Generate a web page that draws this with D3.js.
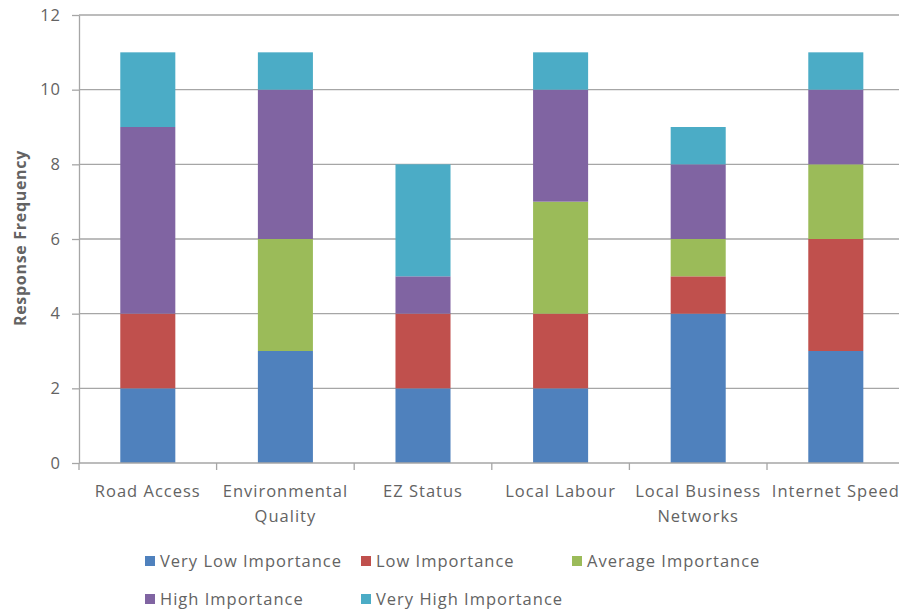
<!DOCTYPE html>
<html>
<head>
<meta charset="utf-8">
<script src="https://cdn.jsdelivr.net/npm/d3@7"></script>
<style>
  html, body { margin: 0; padding: 0; background: #fff; }
  svg { display: block; }
  text { font-family: "Open Sans", "Noto Sans", sans-serif; fill: #636363; }
</style>
</head>
<body>
<svg id="chart" width="899" height="610"></svg>
<script>
// Survey responses per location factor, stacked by importance level
const categories = [["Road Access"], ["Environmental", "Quality"], ["EZ Status"], ["Local Labour"], ["Local Business", "Networks"], ["Internet Speed"]];
const seriesNames = ["Very Low Importance", "Low Importance", "Average Importance", "High Importance", "Very High Importance"];
const seriesColors = ["#4F81BD", "#C0504D", "#9BBB59", "#8064A2", "#4BACC6"];
const veryLow  = [2, 3, 2, 2, 4, 3];
const low      = [2, 0, 2, 2, 1, 3];
const average  = [0, 3, 0, 3, 1, 2];
const high     = [5, 4, 1, 3, 2, 2];
const veryHigh = [2, 1, 3, 1, 1, 1];
const yTicks = [0, 2, 4, 6, 8, 10, 12];

const seriesValues = [veryLow, low, average, high, veryHigh];
const rows = categories.map((c, i) => {
  const r = { key: i };
  seriesNames.forEach((s, j) => { r[s] = seriesValues[j][i]; });
  return r;
});
const stacked = d3.stack().keys(seriesNames)(rows);

const svg = d3.select("#chart");
const plotLeft = 79, plotTop = 15, plotBottom = 463;
const band = 137.6;
const fontSize = "16.5px";
const x = d3.scaleBand().domain(d3.range(categories.length))
  .range([plotLeft, plotLeft + band * categories.length]).paddingInner(0.6).paddingOuter(0.3);
const y = d3.scaleLinear().domain([0, 12]).range([plotBottom, plotTop]);

// horizontal gridlines
svg.append("g").selectAll("line").data(yTicks.filter(t => t > 0)).join("line")
  .attr("x1", plotLeft).attr("x2", 899)
  .attr("y1", d => y(d)).attr("y2", d => y(d))
  .attr("stroke", "#a6a6a6").attr("stroke-width", 1.3);

// stacked bars
svg.append("g").selectAll("g").data(stacked).join("g")
  .attr("fill", (d, i) => seriesColors[i])
  .selectAll("rect").data(d => d.filter(p => p[1] > p[0])).join("rect")
  .attr("x", d => x(d.data.key))
  .attr("width", x.bandwidth())
  .attr("y", d => y(d[1]))
  .attr("height", d => y(d[0]) - y(d[1]));

// y axis
const yAxis = svg.append("g").attr("transform", `translate(${plotLeft},0)`)
  .call(d3.axisLeft(y).tickValues(yTicks).tickSize(7).tickPadding(11).tickSizeOuter(0));
yAxis.select(".domain").attr("stroke", "#a6a6a6").attr("stroke-width", 1.3);
yAxis.selectAll(".tick line").attr("stroke", "#a6a6a6").attr("stroke-width", 1.3);
yAxis.selectAll(".tick text").style("font-size", fontSize).style("letter-spacing", "1px")
  .attr("fill", "#636363").attr("font-family", null);

// x axis with category boundary ticks
const xAxisG = svg.append("g").attr("transform", `translate(0,${plotBottom})`);
xAxisG.append("line").attr("x1", plotLeft).attr("x2", 899).attr("stroke", "#a6a6a6").attr("stroke-width", 1.3);
xAxisG.selectAll(".sep").data(d3.range(categories.length + 1)).join("line")
  .attr("class", "sep")
  .attr("x1", i => plotLeft + band * i).attr("x2", i => plotLeft + band * i)
  .attr("y1", 0).attr("y2", 7)
  .attr("stroke", "#a6a6a6").attr("stroke-width", 1.3);
xAxisG.selectAll(".lbl").data(categories).join("text")
  .attr("class", "lbl")
  .attr("text-anchor", "middle")
  .style("font-size", fontSize).style("letter-spacing", "1px")
  .attr("x", (d, i) => x(i) + x.bandwidth() / 2)
  .selectAll("tspan").data(d => d).join("tspan")
  .attr("x", function () { return d3.select(this.parentNode).attr("x"); })
  .attr("y", (d, j) => 34 + j * 25)
  .text(d => d);

// y axis title
svg.append("text")
  .attr("transform", "translate(26,238) rotate(-90)")
  .attr("text-anchor", "middle")
  .style("font-size", "16px").style("font-weight", "bold").style("letter-spacing", "0.7px")
  .attr("fill", "#636363")
  .text("Response Frequency");

// legend
const legendPos = [[145, 561], [361, 561], [572, 561], [145, 599], [361, 599]];
const legend = svg.append("g").selectAll("g").data(seriesNames).join("g")
  .attr("transform", (d, i) => `translate(${legendPos[i][0]},${legendPos[i][1]})`);
legend.append("rect").attr("x", 0).attr("y", -5).attr("width", 10).attr("height", 10)
  .attr("fill", (d, i) => seriesColors[i]);
legend.append("text").attr("x", 15).attr("dy", "0.35em")
  .style("font-size", fontSize).style("letter-spacing", "1px").text(d => d);
</script>
</body>
</html>
